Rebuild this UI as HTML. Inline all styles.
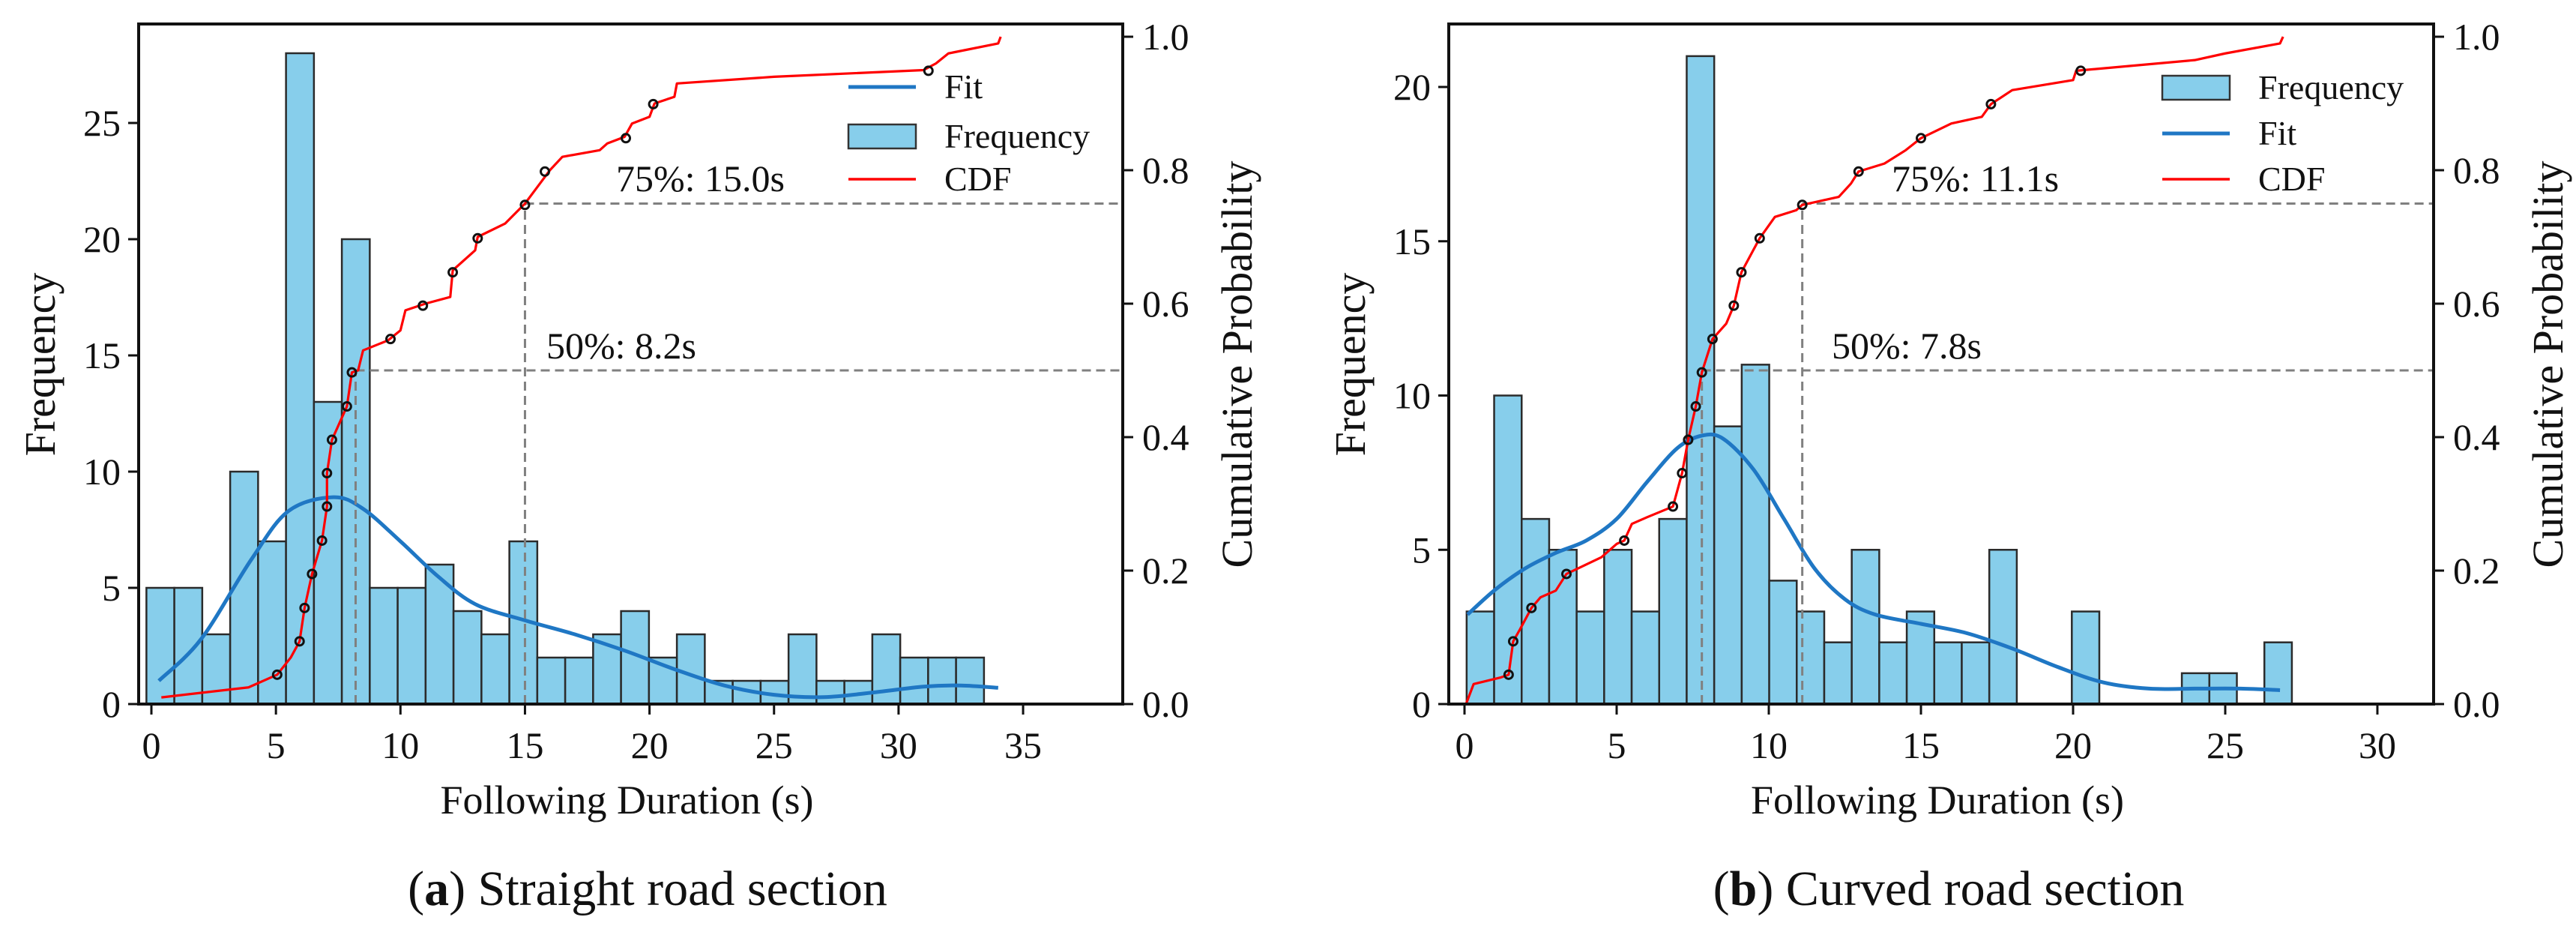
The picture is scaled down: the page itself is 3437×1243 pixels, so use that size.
<!DOCTYPE html>
<html><head><meta charset="utf-8"><style>
html,body{margin:0;padding:0;background:#fff;}
svg{display:block;font-family:"Liberation Serif",serif;}
</style></head><body>
<svg id="fig" width="3437" height="1243" viewBox="0 0 3437 1243" xmlns="http://www.w3.org/2000/svg"></svg>
<script>
// ---- Chart A data (straight road) ----
const aCounts = [5,5,3,10,7,28,13,20,5,5,6,4,3,7,2,2,3,4,2,3,1,1,1,3,1,1,3,2,2,2];
const aFitX = [0.3,2,4,5.5,7.3,8.5,10,11.5,13,15,17,19,21,23,25,27,29,31,32.5,34];
const aFitY = [1.0,2.8,6.2,8.3,8.9,8.4,7.0,5.5,4.3,3.6,3.0,2.3,1.5,0.8,0.4,0.3,0.5,0.75,0.8,0.7];
const aCdfX = [0.4,3.9,5.05,5.6,5.95,6.15,6.45,6.85,7.05,7.05,7.25,7.85,8.05,8.3,8.5,9.5,10,10.2,11,12,12.1,13,13.1,14.2,15,15.6,16,16.5,18,18.3,19,19.3,20,20.2,21,21.1,25,31,31.5,32,34,34.1];
const aCdfY = [0.01,0.025,0.044,0.07,0.094,0.144,0.195,0.245,0.296,0.346,0.396,0.446,0.497,0.5,0.53,0.545,0.56,0.59,0.6,0.61,0.65,0.68,0.7,0.72,0.75,0.78,0.8,0.82,0.83,0.84,0.85,0.87,0.88,0.9,0.91,0.93,0.94,0.95,0.96,0.975,0.99,1.0];
const aMarkX = [5.05,5.95,6.15,6.45,6.85,7.05,7.05,7.25,7.85,8.05,9.6,10.9,12.1,13.1,15.0,15.8,19.05,20.15,31.2];
const aMarkY = [0.044,0.094,0.144,0.195,0.245,0.296,0.346,0.396,0.446,0.497,0.547,0.597,0.647,0.698,0.748,0.798,0.848,0.899,0.949];
const aXTicks = [0,5,10,15,20,25,30,35];
const aYTicks = [0,5,10,15,20,25];
const aPTicks = ["0.0","0.2","0.4","0.6","0.8","1.0"];

// ---- Chart B data (curved road) ----
const bCounts = [3,10,6,5,3,5,3,6,21,9,11,4,3,2,5,2,3,2,2,5,0,0,3,0,0,0,1,1,0,2];
const bFitX = [0.1,1,2,3,4,5,6,7,7.8,8.5,9.5,10.5,11.5,12.5,13.5,15,16.5,18,19.5,21,22.5,24,25.5,26.8];
const bFitY = [2.9,3.7,4.4,4.9,5.3,6.0,7.2,8.3,8.7,8.6,7.6,6.0,4.4,3.4,2.9,2.6,2.3,1.8,1.2,0.7,0.5,0.5,0.5,0.45];
const bCdfX = [0.05,0.3,1.2,1.45,1.6,1.8,2.2,2.5,3.0,3.35,4.5,5.0,5.25,5.5,6.0,6.85,7.15,7.35,7.6,7.8,8.15,8.6,8.85,9.1,9.7,10.2,10.9,11.1,12.3,12.7,12.95,13.8,14.5,15.0,16.0,17.0,17.3,18.0,20.0,20.1,24.0,25.0,26.8,26.9];
const bCdfY = [0.0,0.03,0.04,0.044,0.094,0.11,0.144,0.16,0.17,0.195,0.22,0.24,0.245,0.27,0.28,0.296,0.346,0.396,0.446,0.497,0.547,0.57,0.597,0.647,0.698,0.73,0.74,0.748,0.76,0.78,0.798,0.81,0.83,0.848,0.87,0.88,0.899,0.92,0.935,0.949,0.965,0.975,0.99,1.0];
const bMarkX = [1.45,1.6,2.2,3.35,5.25,6.85,7.15,7.35,7.6,7.8,8.15,8.85,9.1,9.7,11.1,12.95,15.0,17.3,20.25];
const bMarkY = [0.044,0.094,0.144,0.195,0.245,0.296,0.346,0.396,0.446,0.497,0.547,0.597,0.647,0.698,0.748,0.798,0.848,0.899,0.949];
const bXTicks = [0,5,10,15,20,25,30];
const bYTicks = [0,5,10,15,20];
const bPTicks = ["0.0","0.2","0.4","0.6","0.8","1.0"];

const NS = "http://www.w3.org/2000/svg";
const fig = document.getElementById('fig');
function mk(tag, attrs, parent, text){
  const e = document.createElementNS(NS, tag);
  for (const k in attrs) e.setAttribute(k, attrs[k]);
  if (text !== undefined) e.textContent = text;
  (parent||fig).appendChild(e);
  return e;
}
function smooth(pts){
  let d = 'M'+pts[0][0]+','+pts[0][1];
  for (let i=0;i<pts.length-1;i++){
    const p0=pts[Math.max(0,i-1)],p1=pts[i],p2=pts[i+1],p3=pts[Math.min(pts.length-1,i+2)];
    const c1x=p1[0]+(p2[0]-p0[0])/6,c1y=p1[1]+(p2[1]-p0[1])/6;
    const c2x=p2[0]-(p3[0]-p1[0])/6,c2y=p2[1]-(p3[1]-p1[1])/6;
    d+=`C${c1x},${c1y} ${c2x},${c2y} ${p2[0]},${p2[1]}`;
  }
  return d;
}

function drawChart(cfg){
  const g = mk('g', {});
  
  
  const L=cfg.left,R=cfg.right,T=32,B=939;
  const sx = v => cfg.x0px + v*cfg.pxX;
  const sy = v => B - v*cfg.pxY;
  const sp = v => B - v*890;
  cfg.counts.forEach((c,i)=>{
    if (c<=0) return;
    const x0 = sx(cfg.binStart + i*cfg.binW), x1 = sx(cfg.binStart + (i+1)*cfg.binW);
    const r = mk('rect',{x:x0,y:sy(c),width:x1-x0,height:B-sy(c),fill:'#87ceeb',stroke:'#2b2b2b','stroke-width':2.5},g);
    
    
  });
  const fit = mk('path',{d:smooth(cfg.fitX.map((x,i)=>[sx(x),sy(cfg.fitY[i])])),fill:'none',stroke:'#1f77c4','stroke-width':5,'stroke-linejoin':'round'},g);
  
  
  const dl = (x1,y1,x2,y2,n)=>{const l=mk('line',{x1,y1,x2,y2,stroke:'#808080','stroke-width':3,'stroke-dasharray':'12,7'},g);
    
    };
  dl(sx(cfg.p50),B,sx(cfg.p50),sp(0.5),'median-vertical-line');
  dl(sx(cfg.p50),sp(0.5),R,sp(0.5),'median-horizontal-line');
  dl(sx(cfg.p75),B,sx(cfg.p75),sp(0.75),'p75-vertical-line');
  dl(sx(cfg.p75),sp(0.75),R,sp(0.75),'p75-horizontal-line');
  const cdf = mk('path',{d:cfg.cdfX.map((x,i)=>(i?'L':'M')+sx(x)+','+sp(cfg.cdfY[i])).join(''),fill:'none',stroke:'#ff0000','stroke-width':3.2,'stroke-linejoin':'round'},g);
  
  
  cfg.markX.forEach((x,i)=>{
    const c = mk('circle',{cx:sx(x),cy:sp(cfg.markY[i]),r:5.5,fill:'none',stroke:'#111','stroke-width':3},g);
    
    
  });
  const fr = mk('rect',{x:L,y:T,width:R-L,height:B-T,fill:'none',stroke:'#111','stroke-width':4},g);
  
  
  cfg.xTicks.forEach(v=>{
    mk('line',{x1:sx(v),y1:B,x2:sx(v),y2:B+14,stroke:'#111','stroke-width':3},g);
    const t = mk('text',{x:sx(v),y:1011,'font-size':50,'text-anchor':'middle',fill:'#111'},g,String(v));
    
    
  });
  cfg.yTicks.forEach(v=>{
    mk('line',{x1:L-14,y1:sy(v),x2:L,y2:sy(v),stroke:'#111','stroke-width':3},g);
    const t = mk('text',{x:L-24,y:sy(v)+17,'font-size':50,'text-anchor':'end',fill:'#111'},g,String(v));
    
    
  });
  cfg.pTicks.forEach(v=>{
    const p=parseFloat(v);
    mk('line',{x1:R,y1:sp(p),x2:R+14,y2:sp(p),stroke:'#111','stroke-width':3},g);
    const t = mk('text',{x:R+26,y:sp(p)+17,'font-size':50,fill:'#111'},g,v);
    
    
  });
  let t = mk('text',{x:(L+R)/2 - 5,y:1085,'font-size':54,'text-anchor':'middle',fill:'#111'},g,'Following Duration (s)');
  
  
  t = mk('text',{x:0,y:0,'font-size':58,'text-anchor':'middle',fill:'#111',transform:`translate(${L-112},486) rotate(-90)`},g,'Frequency');
  
  
  t = mk('text',{x:0,y:0,'font-size':58,'text-anchor':'middle',fill:'#111',transform:`translate(${R+172},486) rotate(-90)`},g,'Cumulative Probability');
  
  
  t = mk('text',{x:cfg.a75x,y:255,'font-size':50,fill:'#111'},g,cfg.a75);
  
  
  t = mk('text',{x:cfg.a50x,y:478,'font-size':50,fill:'#111'},g,cfg.a50);
  
  
  cfg.legend.forEach((it,i)=>{
    const y = cfg.legY[i];
    const lg = mk('g',{},g);
    
    
    if (it==='Frequency') mk('rect',{x:cfg.legX,y:y-16,width:90,height:32,fill:'#87ceeb',stroke:'#333','stroke-width':2.5},lg);
    else mk('line',{x1:cfg.legX,y1:y,x2:cfg.legX+90,y2:y,stroke:it==='Fit'?'#1f77c4':'#ff0000','stroke-width':it==='Fit'?5:3.5},lg);
    mk('text',{x:cfg.legX+128,y:y+15,'font-size':46,fill:'#111'},lg,it);
  });
  t = mk('text',{x:cfg.capX,y:1207,'font-size':66,'text-anchor':'middle',fill:'#111'},g);
  
  
  mk('tspan',{},t,'(');
  mk('tspan',{'font-weight':'bold'},t,cfg.letter);
  mk('tspan',{},t,') ' + cfg.caption);
}

drawChart({id:'straight',left:185,right:1498,x0px:202,pxX:33.23,pxY:31.0,binStart:-0.2,binW:1.121,
  counts:aCounts,fitX:aFitX,fitY:aFitY,cdfX:aCdfX,cdfY:aCdfY,markX:aMarkX,markY:aMarkY,
  xTicks:aXTicks,yTicks:aYTicks,pTicks:aPTicks,p50:8.2,p75:15.0,
  a75:'75%: 15.0s',a75x:822,a50:'50%: 8.2s',a50x:729,
  legend:['Fit','Frequency','CDF'],legY:[116,182,239],legX:1132,
  capX:864,letter:'a',caption:'Straight road section'});
drawChart({id:'curved',left:1933,right:3247,x0px:1954,pxX:40.6,pxY:41.15,binStart:0.07,binW:0.904,
  counts:bCounts,fitX:bFitX,fitY:bFitY,cdfX:bCdfX,cdfY:bCdfY,markX:bMarkX,markY:bMarkY,
  xTicks:bXTicks,yTicks:bYTicks,pTicks:bPTicks,p50:7.8,p75:11.1,
  a75:'75%: 11.1s',a75x:2524,a50:'50%: 7.8s',a50x:2444,
  legend:['Frequency','Fit','CDF'],legY:[117,178,239],legX:2885,
  capX:2600,letter:'b',caption:'Curved road section'});
</script>
</body></html>
